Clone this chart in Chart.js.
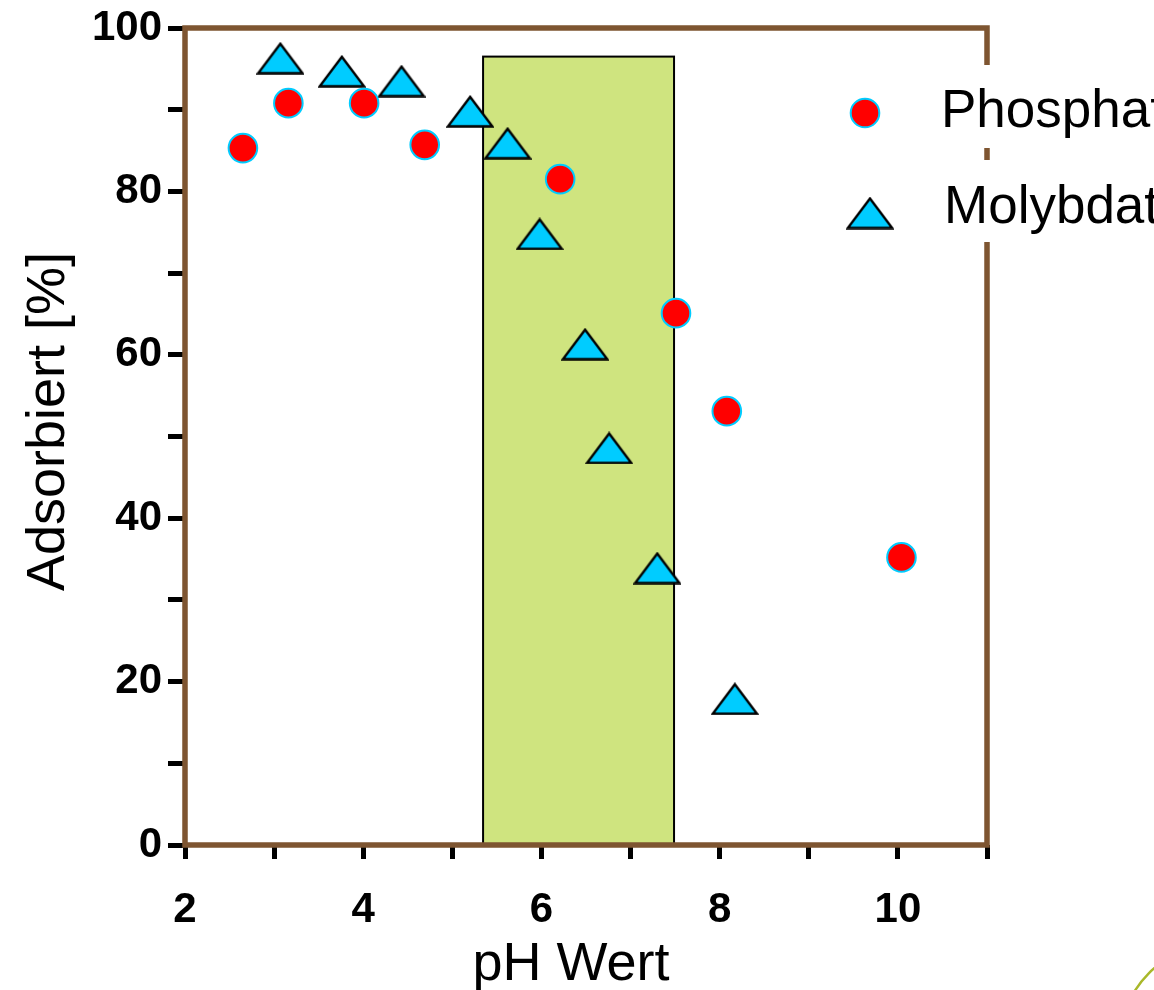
<!DOCTYPE html>
<html>
<head>
<meta charset="utf-8">
<script src="https://cdn.jsdelivr.net/npm/chart.js@4.4.1/dist/chart.umd.min.js"></script>
<style>
  html, body { margin: 0; padding: 0; background: #ffffff; }
  canvas { display: block; }
</style>
</head>
<body>
<canvas id="c" width="1154" height="990"></canvas>
<script>
// ---- data ----
const phosphatPH    = [2.65, 3.16, 4.01, 4.69, 6.21, 7.51, 8.08, 10.04];
const phosphatValue = [85.3, 90.8, 90.8, 85.7, 81.5, 65.1, 53.1, 35.2];
const molybdatPH    = [3.07, 3.76, 4.43, 5.20, 5.62, 5.98, 6.49, 6.76, 7.30, 8.17];
const molybdatValue = [96.3, 94.7, 93.5, 89.8, 85.9, 74.8, 61.3, 48.6, 33.9, 17.9];
const seriesNames   = ['Phosphat', 'Molybdat'];
const xTickLabels   = ['2', '4', '6', '8', '10'];
const yTickLabels   = ['0', '20', '40', '60', '80', '100'];
const shadedPH      = [5.345, 7.488];
const shadedTop     = [96.5];
const xTitle = 'pH Wert';
const yTitle = 'Adsorbiert [%]';

const FONT = '"Liberation Sans", Arial, Helvetica, sans-serif';
const BROWN = '#7E5531';

// custom triangle marker (wider than equilateral)
function makeTriangle() {
  const c = document.createElement('canvas');
  c.width = 48; c.height = 33;
  const g = c.getContext('2d');
  g.beginPath();
  g.moveTo(24, 2);
  g.lineTo(1.8, 31.5);
  g.lineTo(46.2, 31.5);
  g.closePath();
  g.fillStyle = '#00CCFF';
  g.fill();
  g.lineWidth = 2.4;
  g.lineJoin = 'miter';
  g.strokeStyle = '#000000';
  g.stroke();
  return c;
}
const tri = makeTriangle();

const shadePlugin = {
  id: 'shade',
  beforeDatasetsDraw(chart) {
    const {ctx, chartArea, scales: {x, y}} = chart;
    const x0 = x.getPixelForValue(shadedPH[0]);
    const x1 = x.getPixelForValue(shadedPH[1]);
    const y0 = y.getPixelForValue(0);
    const y1 = y.getPixelForValue(shadedTop[0]);
    ctx.save();
    ctx.fillStyle = '#CFE47F';
    ctx.fillRect(x0, y1, x1 - x0, y0 - y1);
    ctx.lineWidth = 2;
    ctx.strokeStyle = '#000000';
    ctx.strokeRect(x0, y1, x1 - x0, y0 - y1);
    // brown frame
    ctx.lineWidth = 5.5;
    ctx.strokeStyle = BROWN;
    ctx.strokeRect(chartArea.left, chartArea.top, chartArea.right - chartArea.left, chartArea.bottom - chartArea.top);
    ctx.restore();
  }
};

const legendPlugin = {
  id: 'customLegend',
  afterDraw(chart) {
    const {ctx} = chart;
    ctx.save();
    ctx.fillStyle = '#ffffff';
    ctx.fillRect(835, 65, 320, 83);
    ctx.fillRect(835, 160, 320, 82);
    // circle marker
    ctx.beginPath();
    ctx.arc(865, 113, 14.3, 0, Math.PI * 2);
    ctx.fillStyle = '#FF0000';
    ctx.fill();
    ctx.lineWidth = 2;
    ctx.strokeStyle = '#00CCFF';
    ctx.stroke();
    // triangle marker
    ctx.drawImage(tri, 870 - tri.width / 2, 213 - tri.height / 2);
    ctx.fillStyle = '#000000';
    ctx.font = '53px ' + FONT;
    ctx.textBaseline = 'alphabetic';
    ctx.textAlign = 'left';
    ctx.fillText(seriesNames[0], 941, 127);
    ctx.fillText(seriesNames[1], 944, 223);
    // decorative arc at the bottom-right corner
    ctx.beginPath();
    ctx.arc(1215, 1040, 94, Math.PI * 1.0, Math.PI * 1.5);
    ctx.lineWidth = 2.5;
    ctx.strokeStyle = '#A9B82A';
    ctx.stroke();
    ctx.restore();
  }
};

new Chart(document.getElementById('c'), {
  type: 'scatter',
  data: {
    datasets: [
      {
        label: seriesNames[0],
        data: phosphatPH.map((v, i) => ({x: v, y: phosphatValue[i]})),
        pointStyle: 'circle',
        pointRadius: 14.3,
        pointHoverRadius: 14.3,
        backgroundColor: '#FF0000',
        borderColor: '#00CCFF',
        borderWidth: 2
      },
      {
        label: seriesNames[1],
        data: molybdatPH.map((v, i) => ({x: v, y: molybdatValue[i]})),
        pointStyle: tri,
        pointRadius: 16,
        pointHoverRadius: 16,
        backgroundColor: '#00CCFF',
        borderColor: '#000000',
        borderWidth: 2
      }
    ]
  },
  options: {
    responsive: false,
    animation: false,
    events: [],
    layout: { padding: { top: 28, right: 167, bottom: 0, left: 0 } },
    plugins: {
      legend: { display: false },
      tooltip: { enabled: false }
    },
    scales: {
      x: {
        type: 'linear',
        min: 2, max: 11,
        afterFit(scale) { scale.height = 145; },
        ticks: {
          stepSize: 1,
          autoSkip: false,
          maxRotation: 0,
          padding: 26,
          color: '#000000',
          font: { family: FONT, size: 42, weight: 'bold' },
          callback: (v) => xTickLabels.includes(String(v)) ? String(v) : ''
        },
        grid: {
          drawOnChartArea: false,
          drawTicks: true,
          tickLength: 14,
          tickWidth: 5,
          color: '#000000',
          lineWidth: 5
        },
        border: { display: false },
        title: {
          display: true,
          text: xTitle + '  ',
          color: '#000000',
          font: { family: FONT, size: 54, lineHeight: 1 },
          padding: { top: 0, bottom: -2 }
        }
      },
      y: {
        type: 'linear',
        min: 0, max: 100,
        afterFit(scale) { scale.width = 185; },
        ticks: {
          stepSize: 10,
          autoSkip: false,
          padding: 6,
          color: '#000000',
          font: { family: FONT, size: 42, weight: 'bold', lineHeight: 1 },
          callback: (v) => yTickLabels.includes(String(v)) ? String(v) : ''
        },
        grid: {
          drawOnChartArea: false,
          drawTicks: true,
          tickLength: 17,
          tickWidth: 5,
          color: '#000000',
          lineWidth: 5
        },
        border: { display: false },
        title: {
          display: true,
          text: '  ' + yTitle,
          color: '#000000',
          font: { family: FONT, size: 54, lineHeight: 1 },
          padding: { top: 22, bottom: 0 }
        }
      }
    }
  },
  plugins: [shadePlugin, legendPlugin]
});
</script>
</body>
</html>
